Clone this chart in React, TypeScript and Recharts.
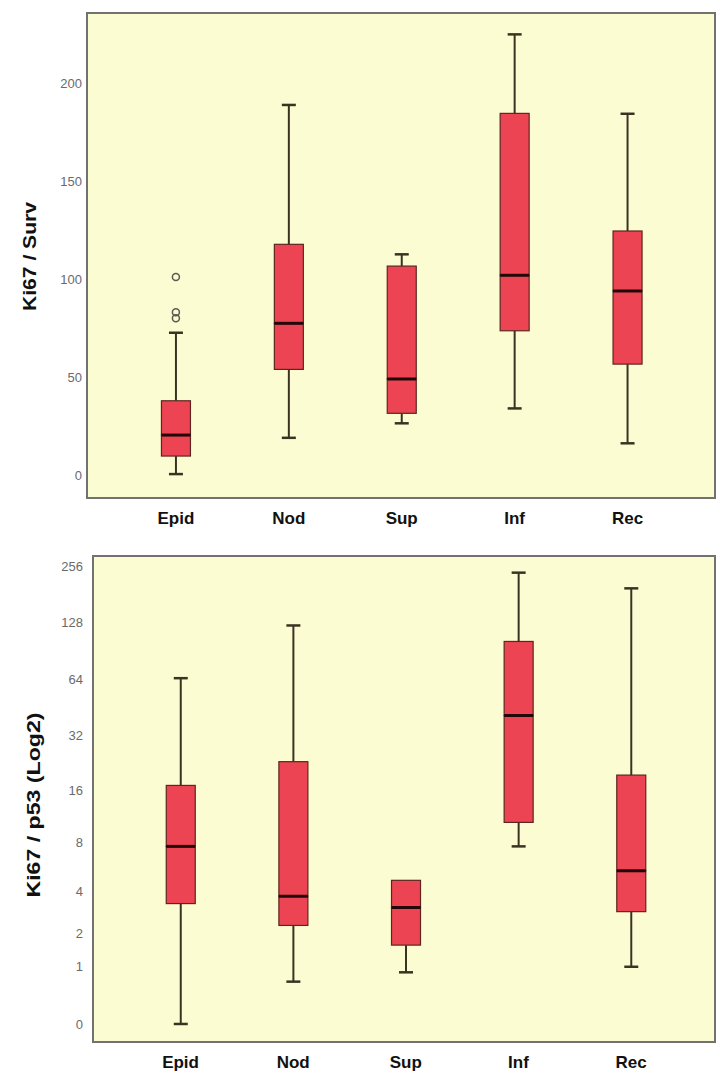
import React from 'react';
import {
  ComposedChart,
  Bar,
  XAxis,
  YAxis,
  Scatter,
  ReferenceArea,
} from 'recharts';

// ---------- data ----------
const categories = ['Epid', 'Nod', 'Sup', 'Inf', 'Rec'];

// Top panel: Ki67 / Surv (linear scale)
const survMin = [0.5, 19, 26.4, 34, 16.2];
const survQ1 = [9.7, 53.9, 31.5, 73.6, 56.6];
const survMedian = [20.4, 77.4, 49, 101.9, 93.9];
const survQ3 = [37.9, 117.7, 106.6, 184.5, 124.5];
const survMax = [72.6, 188.8, 112.6, 224.8, 184.3];
const survOutlierCats = ['Epid', 'Epid', 'Epid'];
const survOutlierValues = [101, 83, 80];
const survTicks = [0, 50, 100, 150, 200];
const survDomain = [-11.7, 235.7];

// Bottom panel: Ki67 / p53 (log2 scale)
const p53Min = [0, 0.67, 0.87, 7.6, 1.0];
const p53Q1 = [3.3, 2.3, 1.6, 10.5, 2.9];
const p53Median = [7.6, 3.7, 3.1, 41, 5.4];
const p53Q3 = [17, 23, 4.7, 102, 19.4];
const p53Max = [65, 124, 4.7, 236, 195];
const p53Ticks = [0, 1, 2, 4, 8, 16, 32, 64, 128, 256];
const p53Domain = [-0.315, 8.18];

// category positions on the x axis (1..5) and visible x range of each panel
const catPositions = [1, 2, 3, 4, 5];
const survXDomain = [0.2126, 5.775];
const p53XDomain = [0.2225, 5.745];

// ---------- helpers ----------
const ident = (v: number) => v;
const log2p = (v: number) => Math.log2(v + 1);
const unlog2p = (v: number) => Math.round(Math.pow(2, v) - 1);

function buildRows(
  mins: number[],
  q1s: number[],
  meds: number[],
  q3s: number[],
  maxs: number[],
  f: (v: number) => number
) {
  return categories.map((name, i) => ({
    name,
    pos: catPositions[i],
    base: f(mins[i]),
    lowerWhisker: f(q1s[i]) - f(mins[i]),
    lowerBox: f(meds[i]) - f(q1s[i]),
    upperBox: f(q3s[i]) - f(meds[i]),
    upperWhisker: f(maxs[i]) - f(q3s[i]),
  }));
}

const survRows = buildRows(survMin, survQ1, survMedian, survQ3, survMax, ident);
const p53Rows = buildRows(p53Min, p53Q1, p53Median, p53Q3, p53Max, log2p);
const survOutliers = survOutlierCats.map((name, i) => ({
  name,
  pos: catPositions[categories.indexOf(name)],
  value: survOutlierValues[i],
}));

// ---------- styling ----------
const BG = '#FCFCD3';
const FRAME = '#727272';
const BOX_FILL = '#EC4452';
const BOX_STROKE = '#5e2520';
const LINE = '#3a3322';
const MEDIAN = '#220808';
const CAP = 14;
const FONT = '"Liberation Sans", Arial, sans-serif';

const Empty = () => <g />;

const LowerWhisker = (p: any) => {
  const { x, y, width, height } = p;
  if (!(height > 0.5)) return <g />;
  const cx = x + width / 2;
  return (
    <g>
      <line x1={cx} x2={cx} y1={y} y2={y + height} stroke={LINE} strokeWidth={2} />
      <line x1={cx - CAP / 2} x2={cx + CAP / 2} y1={y + height} y2={y + height} stroke={LINE} strokeWidth={2.5} />
    </g>
  );
};

const UpperWhisker = (p: any) => {
  const { x, y, width, height } = p;
  if (!(height > 0.5)) return <g />;
  const cx = x + width / 2;
  return (
    <g>
      <line x1={cx} x2={cx} y1={y} y2={y + height} stroke={LINE} strokeWidth={2} />
      <line x1={cx - CAP / 2} x2={cx + CAP / 2} y1={y} y2={y} stroke={LINE} strokeWidth={2.5} />
    </g>
  );
};

const BoxLower = (p: any) => {
  const { x, y, width, height } = p;
  return <rect x={x} y={y} width={width} height={Math.max(height, 0)} fill={BOX_FILL} stroke={BOX_STROKE} strokeWidth={1.2} />;
};

const BoxUpper = (p: any) => {
  const { x, y, width, height } = p;
  const h = Math.max(height, 0);
  return (
    <g>
      <rect x={x} y={y} width={width} height={h} fill={BOX_FILL} stroke={BOX_STROKE} strokeWidth={1.2} />
      <line x1={x} x2={x + width} y1={y + h} y2={y + h} stroke={MEDIAN} strokeWidth={3} />
    </g>
  );
};

const Outlier = (p: any) => {
  const { cx, cy } = p;
  return <circle cx={cx} cy={cy} r={3.5} fill="none" stroke="#5a5a50" strokeWidth={1.5} />;
};

const CategoryTick = (p: any) => {
  const { x, y, payload } = p;
  const label = categories[catPositions.indexOf(payload.value)] ?? '';
  return (
    <text x={x} y={y} dy={18} textAnchor="middle" fontFamily={FONT} fontWeight="bold" fontSize={17} fill="#111">
      {label}
    </text>
  );
};

const makeTitle = (text: string, len: number, dx: number, dy: number) => (props: any) => {
  const vb = props.viewBox || {};
  const cx = (vb.x || 0) + dx;
  const cy = (vb.y || 0) + (vb.height || 0) / 2 + dy;
  return (
    <text
      x={cx}
      y={cy}
      transform={`rotate(-90, ${cx}, ${cy})`}
      textAnchor="middle"
      dominantBaseline="central"
      fontFamily={FONT}
      fontWeight="bold"
      fontSize={18}
      fill="#111"
      textLength={len}
      lengthAdjust="spacingAndGlyphs"
    >
      {text}
    </text>
  );
};

export default function App() {
  return (
    <div
      style={{
        position: 'absolute',
        left: 0,
        top: 0,
        width: 722,
        height: 1082,
        background: '#ffffff',
        overflow: 'hidden',
      }}
    >
      <div style={{ position: 'absolute', left: 0, top: 0 }}>
        <ComposedChart
          width={722}
          height={540}
          data={survRows}
          margin={{ top: 13, right: 7, bottom: 0, left: 0 }}
        >
          <ReferenceArea
            x1={survXDomain[0]}
            x2={survXDomain[1]}
            y1={survDomain[0]}
            y2={survDomain[1]}
            fill={BG}
            fillOpacity={1}
            stroke={FRAME}
            strokeWidth={2}
          />
          <XAxis
            dataKey="pos"
            type="number"
            domain={survXDomain}
            allowDataOverflow
            ticks={catPositions}
            height={42}
            axisLine={false}
            tickLine={false}
            tick={<CategoryTick />}
            interval={0}
          />
          <YAxis
            type="number"
            domain={survDomain}
            ticks={survTicks}
            interval={0}
            allowDataOverflow
            width={87}
            axisLine={false}
            tickLine={false}
            tickSize={0}
            tickMargin={5}
            tick={{ fontSize: 13, fill: '#6a6a6a', fontFamily: FONT }}
            label={{ content: makeTitle('Ki67 / Surv', 109, 30, 1) }}
          />
          <Bar dataKey="base" stackId="b" barSize={29} shape={<Empty />} isAnimationActive={false} />
          <Bar dataKey="lowerWhisker" stackId="b" barSize={29} shape={<LowerWhisker />} isAnimationActive={false} />
          <Bar dataKey="lowerBox" stackId="b" barSize={29} shape={<BoxLower />} isAnimationActive={false} />
          <Bar dataKey="upperBox" stackId="b" barSize={29} shape={<BoxUpper />} isAnimationActive={false} />
          <Bar dataKey="upperWhisker" stackId="b" barSize={29} shape={<UpperWhisker />} isAnimationActive={false} />
          <Scatter data={survOutliers} dataKey="value" shape={<Outlier />} isAnimationActive={false} />
        </ComposedChart>
      </div>
      <div style={{ position: 'absolute', left: 0, top: 540 }}>
        <ComposedChart
          width={722}
          height={542}
          data={p53Rows}
          margin={{ top: 16, right: 7, bottom: 0, left: 0 }}
        >
          <ReferenceArea
            x1={p53XDomain[0]}
            x2={p53XDomain[1]}
            y1={p53Domain[0]}
            y2={p53Domain[1]}
            fill={BG}
            fillOpacity={1}
            stroke={FRAME}
            strokeWidth={2}
          />
          <XAxis
            dataKey="pos"
            type="number"
            domain={p53XDomain}
            allowDataOverflow
            ticks={catPositions}
            height={40}
            axisLine={false}
            tickLine={false}
            tick={<CategoryTick />}
            interval={0}
          />
          <YAxis
            type="number"
            domain={p53Domain}
            ticks={p53Ticks.map(log2p)}
            tickFormatter={(v: number) => String(unlog2p(v))}
            interval={0}
            allowDataOverflow
            width={93}
            axisLine={false}
            tickLine={false}
            tickSize={0}
            tickMargin={10}
            tick={{ fontSize: 13, fill: '#6a6a6a', fontFamily: FONT }}
            label={{ content: makeTitle('Ki67 / p53 (Log2)', 185, 34, 6) }}
          />
          <Bar dataKey="base" stackId="b" barSize={29} shape={<Empty />} isAnimationActive={false} />
          <Bar dataKey="lowerWhisker" stackId="b" barSize={29} shape={<LowerWhisker />} isAnimationActive={false} />
          <Bar dataKey="lowerBox" stackId="b" barSize={29} shape={<BoxLower />} isAnimationActive={false} />
          <Bar dataKey="upperBox" stackId="b" barSize={29} shape={<BoxUpper />} isAnimationActive={false} />
          <Bar dataKey="upperWhisker" stackId="b" barSize={29} shape={<UpperWhisker />} isAnimationActive={false} />
        </ComposedChart>
      </div>
    </div>
  );
}
